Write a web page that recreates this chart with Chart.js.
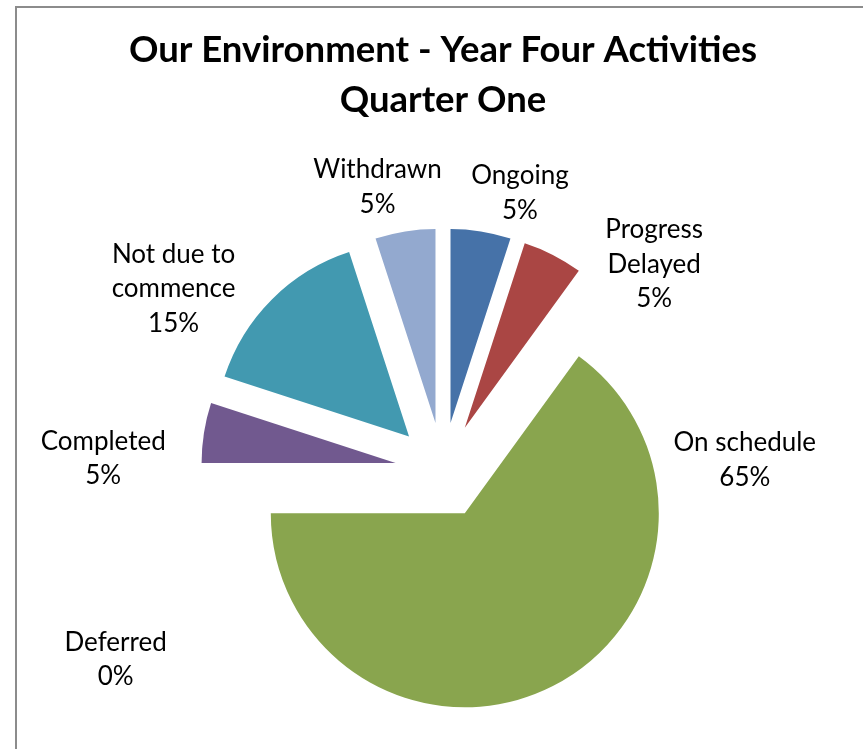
<!DOCTYPE html>
<html>
<head>
<meta charset="utf-8">
<title>Our Environment - Year Four Activities</title>
<script src="https://cdn.jsdelivr.net/npm/chart.js@4.4.0/dist/chart.umd.min.js"></script>
<style>
  html, body { margin: 0; padding: 0; background: #fff; }
  #wrap { position: relative; width: 863px; height: 749px; overflow: hidden; }
  #frame { position: absolute; left: 15px; top: 6px; right: -4px; bottom: -4px;
           border-left: 2px solid #8c8c8c; border-top: 2px solid #8c8c8c; }
  #activityPie { position: absolute; left: 0; top: 0; }
</style>
</head>
<body>
<div id="wrap">
  <div id="frame"></div>
  <canvas id="activityPie" width="863" height="749"></canvas>
</div>
<script>
var categories = ['Ongoing', ['Progress', 'Delayed'], 'On schedule', 'Deferred', 'Completed', ['Not due to', 'commence'], 'Withdrawn'];
var shares = [5, 5, 65, 0, 5, 15, 5];
var sliceColors = ['#4672a8', '#aa4644', '#89a54e', '#db843d', '#71598f', '#4299b0', '#93a9cf'];

// label spots: degrees clockwise from 12 o'clock, and distance from the pie centre
var labelAngles = [15.5, 45.7, 88, 240, 272, 304, 347];
var labelDistances = [288, 295, 302, 378, 340, 325, 291];

var pieRadius = 194;
var explode = 48;
var lineGap = 34.5;

// pull every slice out from the centre along its own mid angle
var explodedSlices = {
  id: 'explodedSlices',
  beforeDatasetDraw: function(chart, args) {
    var ctx = chart.ctx;
    args.meta.data.forEach(function(arc) {
      if (arc.endAngle - arc.startAngle <= 0) return;
      var mid = (arc.startAngle + arc.endAngle) / 2;
      ctx.save();
      ctx.translate(Math.cos(mid) * explode, Math.sin(mid) * explode);
      arc.draw(ctx);
      ctx.restore();
    });
    return false;
  }
};

var sliceLabels = {
  id: 'sliceLabels',
  afterDatasetsDraw: function(chart) {
    var ctx = chart.ctx;
    var arcs = chart.getDatasetMeta(0).data;
    var total = shares.reduce(function(a, b) { return a + b; }, 0);
    ctx.save();
    ctx.font = '26px Lato';
    ctx.fillStyle = '#000';
    ctx.textAlign = 'center';
    ctx.textBaseline = 'middle';
    arcs.forEach(function(arc, i) {
      var lines = [].concat(categories[i]);
      lines.push(Math.round(shares[i] / total * 100) + '%');
      var a = labelAngles[i] * Math.PI / 180;
      var x = arc.x + Math.sin(a) * labelDistances[i];
      var y = arc.y - Math.cos(a) * labelDistances[i];
      var top = y - (lines.length - 1) * lineGap / 2;
      lines.forEach(function(t, k) {
        ctx.fillText(t, x, top + k * lineGap);
      });
    });
    ctx.restore();
  }
};

new Chart(document.getElementById('activityPie'), {
  type: 'pie',
  data: {
    labels: categories,
    datasets: [{
      data: shares,
      backgroundColor: sliceColors,
      borderWidth: 0,
      radius: pieRadius
    }]
  },
  options: {
    responsive: false,
    animation: false,
    layout: {
      padding: { left: 30, right: 7, top: 0, bottom: 8 }
    },
    plugins: {
      legend: { display: false },
      tooltip: { enabled: false },
      title: {
        display: true,
        text: ['Our Environment - Year Four Activities', 'Quarter One'],
        color: '#000',
        font: { family: 'Lato', size: 36.5, weight: 'bold', lineHeight: 50 / 36.5 },
        padding: { top: 25, bottom: 75 }
      }
    }
  },
  plugins: [explodedSlices, sliceLabels]
});
</script>
</body>
</html>
